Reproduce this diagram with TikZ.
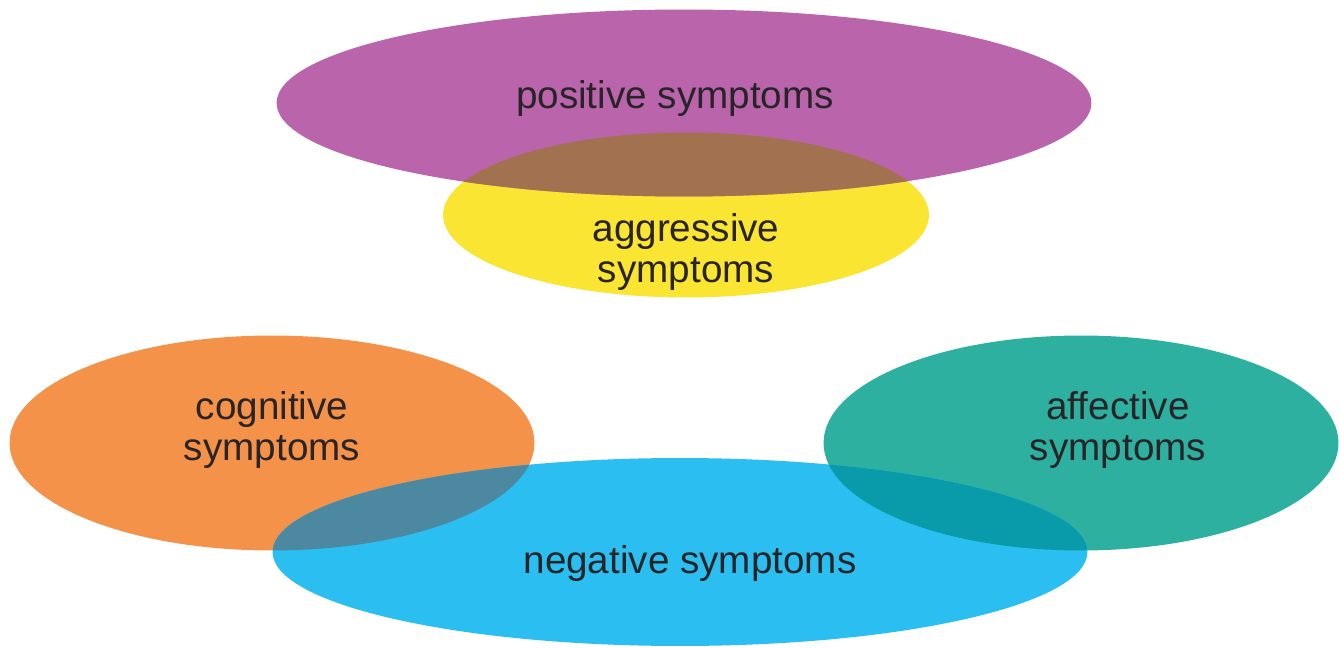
\documentclass[tikz,border=0pt]{standalone}
\usepackage{fontspec}
\setmainfont{Liberation Sans}
\usetikzlibrary{shapes.geometric}
\definecolor{posCol}{RGB}{185,100,171}
\definecolor{aggCol}{RGB}{249,229,50}
\definecolor{posAggCol}{RGB}{162,114,80}
\definecolor{cogCol}{RGB}{244,146,74}
\definecolor{affCol}{RGB}{45,176,159}
\definecolor{negCol}{RGB}{42,191,240}
\definecolor{cogNegCol}{RGB}{76,136,160}
\definecolor{affNegCol}{RGB}{10,155,170}
\definecolor{labelCol}{RGB}{40,36,40}
\begin{document}
\begin{tikzpicture}[x=0.02cm,y=-0.02cm]
      \tikzstyle{every node}+=[inner sep=0pt]
      \tikzstyle{blob}=[ellipse, draw=none]
      \tikzstyle{lbl}=[align=center, text=labelCol, font=\fontsize{22}{22.8}\selectfont]
      \useasboundingbox (0,0) rectangle (1339,648);
      % ellipses
      \node [blob, fill=aggCol, minimum width=9.72cm, minimum height=3.3cm] (agg) at (686,215) {};
      \node [blob, fill=posCol, minimum width=16.3cm, minimum height=3.74cm] (pos) at (684,103) {};
      \node [blob, fill=cogCol, minimum width=10.5cm, minimum height=4.3cm] (cog) at (272,443) {};
      \node [blob, fill=affCol, minimum width=10.3cm, minimum height=4.3cm] (aff) at (1081,443) {};
      \node [blob, fill=negCol, minimum width=16.3cm, minimum height=3.76cm] (neg) at (680,552) {};
      % overlaps
      \begin{scope}
        \clip (pos.center) ellipse [x radius=8.15cm, y radius=1.87cm];
        \fill [posAggCol] (agg.center) ellipse [x radius=4.86cm, y radius=1.65cm];
      \end{scope}
      \begin{scope}
        \clip (neg.center) ellipse [x radius=8.15cm, y radius=1.88cm];
        \fill [cogNegCol] (cog.center) ellipse [x radius=5.25cm, y radius=2.15cm];
        \fill [affNegCol] (aff.center) ellipse [x radius=5.15cm, y radius=2.15cm];
      \end{scope}
      % labels
      \node [lbl] (posText) at (675,99) {positive symptoms};
      \node [lbl] (aggText) at (686,252) {aggressive\\symptoms};
      \node [lbl] (cogText) at (272,430) {cognitive\\symptoms};
      \node [lbl] (affText) at (1118,430) {affective\\symptoms};
      \node [lbl] (negText) at (690,564) {negative symptoms};
\end{tikzpicture}
\end{document}
